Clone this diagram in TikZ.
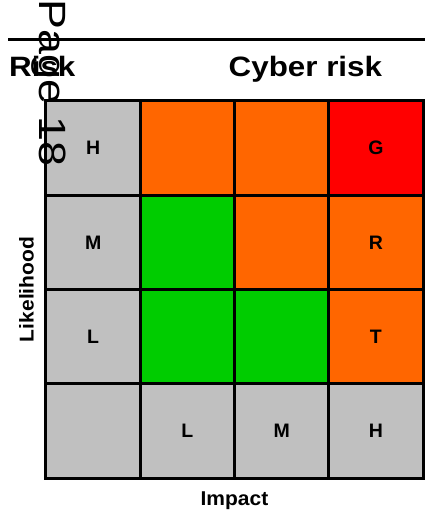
\documentclass[tikz,border=0pt]{standalone}
\usepackage{fontspec}
\setmainfont{Liberation Sans}
\definecolor{cgray}{HTML}{C0C0C0}
\definecolor{corange}{HTML}{FF6600}
\definecolor{cred}{HTML}{FF0000}
\definecolor{cgreen}{HTML}{00CC00}
\begin{document}
\begin{tikzpicture}[x=1pt,y=-1pt,
  cell/.style={fill=#1,minimum width=94.25pt,minimum height=94.25pt,inner sep=0pt,
    font=\fontsize{19.5}{19.5}\selectfont\bfseries},
  gridline/.style={draw=black,line width=3pt},
  title/.style={inner sep=0pt,anchor=base west,font=\fontsize{28}{28}\selectfont\bfseries},
  axislabel/.style={inner sep=0pt,font=\fontsize{20}{20}\selectfont\bfseries}]
\useasboundingbox (0,0) rectangle (425,511);
% top rule
\coordinate (ruleL) at (8,40);
\coordinate (ruleR) at (425,40);
\draw[line width=3pt] (ruleL) -- (ruleR);
% titles
\node[title] (risk) at (9,76.5) {\scalebox{1.12}[1]{Risk}};
\node[title] (cyber) at (228.5,76.5) {\scalebox{1.12}[1]{Cyber risk}};
% grid cells
\def\cs{94.25}
\foreach \r/\row in {0/{cgray/H,corange/,corange/,cred/G},
                     1/{cgray/M,cgreen/,corange/,corange/R},
                     2/{cgray/L,cgreen/,cgreen/,corange/T},
                     3/{cgray/,cgray/L,cgray/M,cgray/H}}{
  \foreach \col/\txt [count=\c from 0] in \row {
    \node[cell=\col] (c\r\c) at ({46+\cs*(\c+0.5)},{101+\cs*(\r+0.5)}) {\txt};
  }
}
\foreach \r in {0,...,3}{
  \foreach \c in {0,...,3}{
    \draw[gridline] (c\r\c.north west) rectangle (c\r\c.south east);
  }
}
% axis labels
\node[axislabel,rotate=90] (like) at (26.5,289.5) {\scalebox{1.05}[1]{Likelihood}};
\node[axislabel,anchor=base] (impact) at (234.5,505) {\scalebox{1.05}[1]{Impact}};
% page watermark
\node[rotate=-90,anchor=base west,inner sep=0pt,font=\fontsize{38}{38}\selectfont] (page) at (39.5,-0.5) {\scalebox{1.18}[1]{Page 18}};
\end{tikzpicture}
\end{document}
